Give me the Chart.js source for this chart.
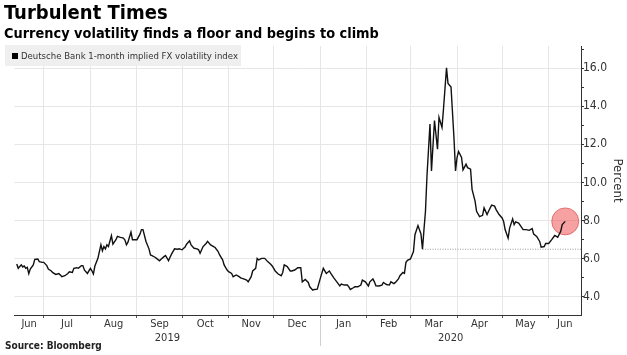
<!DOCTYPE html>
<html><head><meta charset="utf-8">
<script src="https://cdn.jsdelivr.net/npm/chart.js@4"></script>
<style>
html,body{margin:0;padding:0;background:#fff;}
#wrap{position:relative;width:627px;height:355px;overflow:hidden;background:#fff;}
#c{position:absolute;left:0;top:0;}
.t{position:absolute;white-space:nowrap;color:#000;z-index:2;}
#title{left:4px;top:1px;font:bold 20px 'DejaVu Sans Condensed','DejaVu Sans',sans-serif;line-height:23px;}
#sub{left:4px;top:24px;font:bold 14.4px 'DejaVu Sans Condensed','DejaVu Sans',sans-serif;line-height:18px;}
#legend{left:5px;top:45px;width:236px;height:21px;background:#efefef;font:9.5px 'DejaVu Sans Condensed','DejaVu Sans',sans-serif;line-height:21px;color:#333;}
#legend span.sw{display:inline-block;width:6px;height:6px;background:#000;margin:0 3px 0 7px;vertical-align:0px;}
#src{left:5px;top:339px;font:bold 10px 'DejaVu Sans Condensed','DejaVu Sans',sans-serif;line-height:14px;color:#222;}
</style>
</head><body>
<div id="wrap">
<canvas id="c" width="627" height="355"></canvas>
<div class="t" id="title">Turbulent Times</div>
<div class="t" id="sub">Currency volatility finds a floor and begins to climb</div>
<div class="t" id="legend"><span class="sw"></span>Deutsche Bank 1-month implied FX volatility index</div>
<div class="t" id="src">Source: Bloomberg</div>
</div>
<script>
// Days since 2019-06-01
const days = [
12,13,15,16,17,18,19,20,21,23,
24,26,27,29,30,32,33,35,36,38,
40,41,42,44,46,47,49,50,52,53,
55,56,57,59,61,62,63,64,66,68,
69,70,71,72,73,75,76,78,79,81,
83,84,85,86,88,89,91,92,94,95,
96,98,100,101,102,104,105,107,108,110,
111,113,114,115,117,119,120,122,124,125,
127,128,130,132,133,134,136,138,139,141,
143,144,146,147,149,150,152,153,155,156,
158,160,161,163,165,166,168,169,171,172,
173,175,177,179,181,182,184,186,188,189,
190,192,194,195,197,199,201,202,204,206,
207,209,210,212,214,216,218,220,221,223,
225,227,228,230,232,233,234,236,237,239,
241,242,244,246,247,249,250,251,253,255,
256,258,260,261,263,264,266,267,269,270,
271,272,274,276,277,279,281,282,283,284,
285,287,288,290,292,293,295,296,298,299,
301,303,304,305,306,308,309,311,312,314,
315,317,318,320,322,323,325,326,328,330,
331,333,335,336,337,339,340,342,343,344,
346,348,349,351,353,355,356,358,360,361,
363,364,366,368,370,372,374,375,377];
const volIndex = [
5.73,5.50,5.68,5.57,5.62,5.50,5.55,5.22,5.46,5.68,
5.97,5.99,5.85,5.81,5.81,5.64,5.46,5.36,5.27,5.18,
5.22,5.15,5.06,5.11,5.23,5.32,5.28,5.50,5.53,5.50,
5.64,5.64,5.41,5.23,5.50,5.37,5.20,5.62,6.02,6.73,
6.42,6.64,6.52,6.73,6.64,7.21,6.77,7.00,7.17,7.12,
7.08,6.98,6.73,6.87,7.40,7.00,7.00,7.00,7.29,7.53,
7.53,6.91,6.52,6.20,6.17,6.08,6.02,5.89,5.97,6.11,
6.17,5.90,6.08,6.24,6.52,6.50,6.52,6.47,6.61,6.76,
6.94,6.73,6.55,6.52,6.47,6.29,6.64,6.80,6.91,6.73,
6.64,6.59,6.38,6.20,5.94,5.68,5.41,5.32,5.23,5.06,
5.15,5.06,5.00,4.94,4.88,4.79,5.06,5.36,5.50,6.02,
5.94,6.02,6.02,5.85,5.71,5.62,5.36,5.20,5.11,5.28,
5.68,5.59,5.36,5.36,5.41,5.53,5.53,4.79,4.91,4.76,
4.53,4.35,4.39,4.41,4.97,5.50,5.23,5.36,5.23,5.00,
4.79,4.58,4.67,4.62,4.62,4.53,4.39,4.48,4.53,4.53,
4.62,4.88,4.79,4.57,4.79,4.94,4.79,4.58,4.57,4.62,
4.76,4.65,4.62,4.79,4.70,4.76,4.94,5.11,5.28,5.23,
5.81,5.92,5.99,6.38,7.26,7.74,7.30,6.50,7.53,8.49,
10.34,13.07,10.61,13.25,11.75,13.42,12.89,13.87,16.01,15.19,
15.01,12.28,10.61,11.31,11.63,11.31,10.66,10.96,10.78,10.70,
9.64,9.02,8.49,8.21,8.28,8.67,8.32,8.49,8.81,8.76,
8.58,8.32,8.14,7.96,7.53,7.08,7.61,8.09,7.79,7.93,
7.87,7.65,7.53,7.53,7.49,7.58,7.29,7.17,6.91,6.61,
6.64,6.80,6.80,7.00,7.22,7.13,7.44,7.79,7.96];

// February low, carried forward as a dotted floor line
const floorStartDay = 282;
const floorValue = 6.50;
// Highlighted latest point
const highlightDay = 377;
const highlightValue = 7.96;

const monthStarts = ['2019-07-01','2019-08-01','2019-09-01','2019-10-01','2019-11-01','2019-12-01',
  '2020-01-01','2020-02-01','2020-03-01','2020-04-01','2020-05-01','2020-06-01'];
const monthLabels = ['Jun','Jul','Aug','Sep','Oct','Nov','Dec','Jan','Feb','Mar','Apr','May','Jun'];
const yearLabels = ['2019','2020'];
const yearStart = '2020-01-01';
const yTickValues = [4,5,6,7,8,9,10,11,12,13,14,15,16,17];

const X_MIN = 10.5, X_MAX = 387.5, Y_MIN = 3.05, Y_MAX = 17.16;

const base = Date.UTC(2019,5,1);
const toDay = s => { const [y,m,d] = s.split('-').map(Number); return (Date.UTC(y,m-1,d)-base)/86400000; };
const bounds = monthStarts.map(toDay);
const edges = [X_MIN, ...bounds, X_MAX];
const mids = monthLabels.map((_, i) => (edges[i] + edges[i+1]) / 2);
const labelAt = new Map(mids.map((m,i)=>[m, monthLabels[i]]));
const boundSet = new Set(bounds);
const xTicks = [...bounds, ...mids].sort((a,b)=>a-b);
const janDay = toDay(yearStart);
const yearPos = [(X_MIN + janDay)/2, (janDay + X_MAX)/2];
const yearAt = new Map(yearPos.map((p,i)=>[p, yearLabels[i]]));

const FONT = "'DejaVu Sans Condensed','DejaVu Sans',sans-serif";
const GRID = '#e6e6e6';

const yearSep = {
  id:'yearSep',
  afterDraw(chart){
    const x = chart.scales.x.getPixelForValue(janDay);
    const ctx = chart.ctx, b = chart.chartArea.bottom;
    ctx.save(); ctx.strokeStyle = '#d0d0d0'; ctx.lineWidth = 1;
    ctx.beginPath(); ctx.moveTo(Math.round(x)+0.5, b+4); ctx.lineTo(Math.round(x)+0.5, b+31); ctx.stroke();
    ctx.restore();
  }
};

new Chart(document.getElementById('c'), {
  type:'line',
  data:{datasets:[
    {data: days.map((d,i)=>({x:d, y:volIndex[i]})), borderColor:'#111', borderWidth:1.4, pointRadius:0, tension:0, order:1},
    {data:[{x:floorStartDay,y:floorValue},{x:X_MAX,y:floorValue}], borderColor:'#9a9a9a', borderWidth:1, borderDash:[1,1.5], pointRadius:0, order:2},
    {data:[{x:highlightDay,y:highlightValue}], showLine:false, pointRadius:13.5, pointHoverRadius:13.5,
     pointBackgroundColor:'rgba(240,70,70,0.5)', pointBorderColor:'rgba(210,50,50,0.55)', pointBorderWidth:1, order:3, clip:false}
  ]},
  options:{
    responsive:false, animation:false, devicePixelRatio:1,
    layout:{padding:{top:46,left:1,right:0,bottom:7}},
    plugins:{legend:{display:false}, tooltip:{enabled:false}},
    scales:{
      x:{type:'linear', position:'bottom', min:X_MIN, max:X_MAX,
        afterBuildTicks:s=>{s.ticks = xTicks.map(v=>({value:v}));},
        afterFit:s=>{s.height = 17;},
        ticks:{autoSkip:false, maxRotation:0, padding:0, color:'#333', font:{family:FONT,size:11},
          callback:v=>labelAt.has(v)?labelAt.get(v):''},
        grid:{color:c=>boundSet.has(c.tick.value)?GRID:'rgba(0,0,0,0)',
          tickColor:c=>boundSet.has(c.tick.value)?'#555':'rgba(0,0,0,0)', tickLength:3},
        border:{color:'#333', width:1}
      },
      xYear:{type:'linear', axis:'x', position:'bottom', min:X_MIN, max:X_MAX,
        afterBuildTicks:s=>{s.ticks = yearPos.map(v=>({value:v}));},
        afterFit:s=>{s.height = 16;},
        ticks:{autoSkip:false, maxRotation:0, padding:0, color:'#333', font:{family:FONT,size:11},
          callback:v=>yearAt.get(v)||''},
        grid:{display:false, drawTicks:false, tickLength:0}, border:{display:false}
      },
      y:{type:'linear', position:'right', min:Y_MIN, max:Y_MAX,
        afterBuildTicks:s=>{s.ticks = yTickValues.map(v=>({value:v}));},
        afterFit:s=>{s.width = 46;},
        ticks:{padding:-1, color:'#333', font:{family:FONT,size:12},
          callback:v=>v%2===0?v.toFixed(1):''},
        grid:{color:c=>c.tick.value%2===0?GRID:'rgba(0,0,0,0)', tickColor:'#333', tickLength:3},
        border:{color:'#333', width:1},
        title:{display:true, text:'Percent', color:'#333', font:{family:FONT,size:13}, padding:{top:2,bottom:0}}
      }
    }
  },
  plugins:[yearSep]
});
</script>
</body></html>
